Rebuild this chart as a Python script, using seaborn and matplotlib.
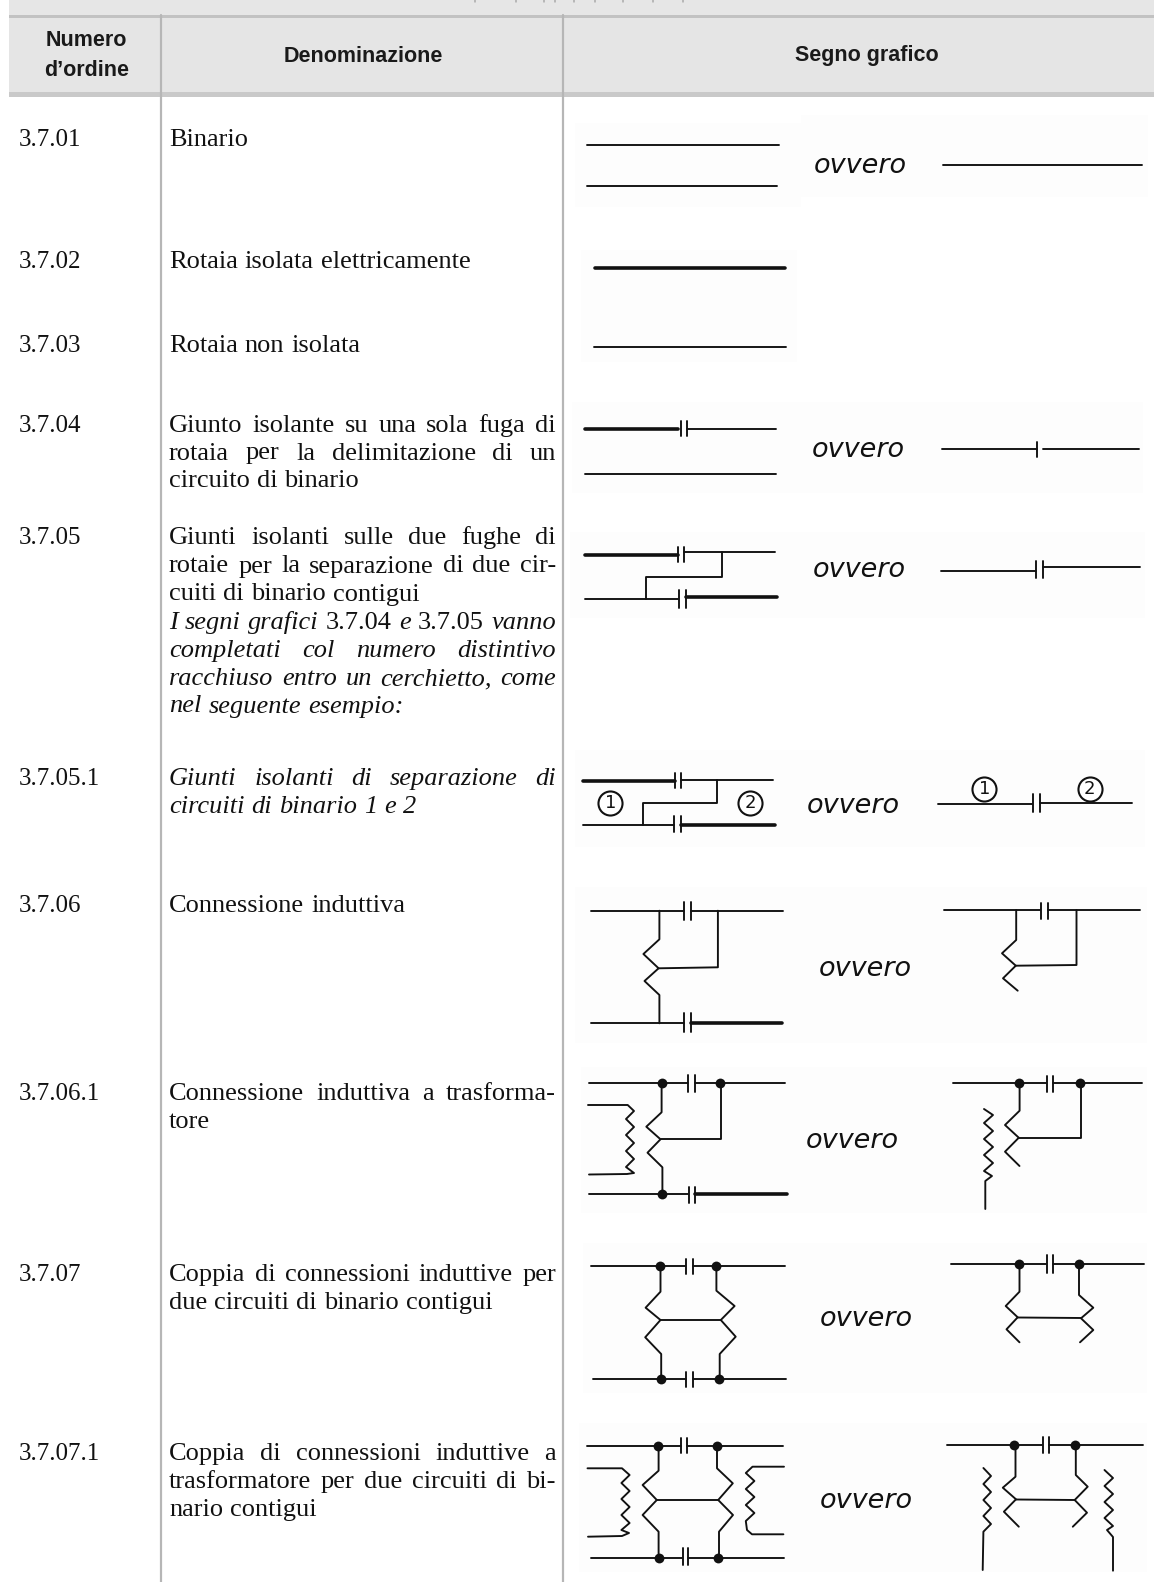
# -*- coding: utf-8 -*-
"""
Tabella segni grafici 3.7 (binari, giunti, connessioni induttive)
Assi in pixel dell'immagine, origine in alto a sinistra
"""
import pandas as pd
import seaborn as sns
import matplotlib
matplotlib.use("Agg")
import matplotlib.pyplot as plt
from matplotlib.patches import Rectangle

W, H = 1154, 1582

# intestazioni
HEADERS = [("Numero", 86.5, 45.5), ("d\u2019ordine", 86.5, 76.5),
           ("Denominazione", 363, 61.5), ("Segno grafico", 867, 61.5)]

# numeri d'ordine e relativa linea di base
NUMBERS = [("3.7.01", 146), ("3.7.02", 268), ("3.7.03", 352), ("3.7.04", 432),
           ("3.7.05", 544), ("3.7.05.1", 785), ("3.7.06", 912), ("3.7.06.1", 1100),
           ("3.7.07", 1281), ("3.7.07.1", 1460)]

# denominazioni: testo, linea di base, giustificato; * = parola in corsivo
NAMES = [
    ("Binario", 146, False),
    ("Rotaia isolata elettricamente", 268, False),
    ("Rotaia non isolata", 352, False),
    ("Giunto isolante su una sola fuga di", 432, True),
    ("rotaia per la delimitazione di un", 459.5, True),
    ("circuito di binario", 487, False),
    ("Giunti isolanti sulle due fughe di", 544, True),
    ("rotaie per la separazione di due cir-", 572.5, True),
    ("cuiti di binario contigui", 600.5, False),
    ("*I *segni *grafici 3.7.04 *e 3.7.05 *vanno", 629, True),
    ("*completati *col *numero *distintivo", 657, True),
    ("*racchiuso *entro *un *cerchietto, *come", 685, True),
    ("*nel *seguente *esempio:", 712.5, False),
    ("*Giunti *isolanti *di *separazione *di", 785, True),
    ("*circuiti *di *binario *1 *e *2", 813, False),
    ("Connessione induttiva", 912, False),
    ("Connessione induttiva a trasforma-", 1100, True),
    ("tore", 1128, False),
    ("Coppia di connessioni induttive per", 1281, True),
    ("due circuiti di binario contigui", 1309, False),
    ("Coppia di connessioni induttive a", 1460, True),
    ("trasformatore per due circuiti di bi-", 1488, True),
    ("nario contigui", 1516, False),
]

# scritte "ovvero" (centro x, linea di base)
OVVERO = [(860.5, 172.7), (858.6, 457.3), (859.8, 576.7), (853.8, 812.7), (865, 976),
          (852.3, 1147.7), (866.8, 1326), (866.8, 1508.3)]

# tratti spessi (rotaia isolata)
THICK = [
    [(595, 268), (785, 268)],
    [(585, 429), (678, 429)],
    [(585, 555), (678, 555)],
    [(685.5, 596.7), (777.4, 596.7)],
    [(583, 781), (675, 781)],
    [(680.6, 824.7), (774.8, 824.7)],
    [(691, 1023.3), (781.5, 1023.3)],
    [(695, 1194.3), (786.8, 1194.3)],
]

# rotaie normali
RAIL = [
    [(587, 145), (778.6, 145)], [(587, 186), (777, 186)], [(943, 165), (1141.7, 165)],
    [(593.5, 347), (786.4, 347)],
    [(687, 429), (775.6, 429)], [(585, 473.7), (776, 473.7)],
    [(941.7, 449.3), (1036.7, 449.3)], [(1043, 449.3), (1138.7, 449.3)],
    [(684, 552.3), (774.8, 552.3)], [(585, 599.3), (678, 599.3)],
    [(940.6, 570.7), (1035.6, 570.7)], [(1043, 567.3), (1139.8, 567.3)],
    [(681, 779.7), (773, 779.7)], [(583, 824.7), (674.3, 824.7)],
    [(937.6, 804), (1031.8, 804)], [(1040, 803), (1132.4, 803)],
    [(590.5, 910.7), (683.6, 910.7)], [(691, 910.7), (783.4, 910.7)],
    [(591, 1023.3), (683.6, 1023.3)],
    [(943.6, 910), (1040, 910)], [(1047.5, 910), (1139.8, 910)],
    [(588.6, 1082.7), (688.4, 1082.7)], [(694.8, 1082.7), (785.3, 1082.7)],
    [(588.6, 1194.3), (688.4, 1194.3)],
    [(952.5, 1083.3), (1046, 1083.3)], [(1053.4, 1083.3), (1141.7, 1083.3)],
    [(590.5, 1266), (684.7, 1266)], [(692.9, 1266), (785.3, 1266)],
    [(593, 1379.3), (685.5, 1379.3)], [(692.9, 1379.3), (786, 1379.3)],
    [(950.6, 1264), (1046, 1264)], [(1053, 1264), (1143.5, 1264)],
    [(586.8, 1445.7), (681, 1445.7)], [(687.3, 1445.7), (783, 1445.7)],
    [(590.5, 1558.3), (681.7, 1558.3)], [(688.4, 1558.3), (784, 1558.3)],
    [(947.3, 1445.3), (1042.3, 1445.3)], [(1049.3, 1445.3), (1142.8, 1445.3)],
]

# giunti isolanti: x, y inizio, y fine
PLATES = [
    (680.6, 420.7, 435.7), (687.3, 420.7, 435.7), (1036.7, 442, 457),
    (678, 546.7, 561.7), (684.3, 546.7, 561.7), (678.8, 590, 607.7), (685.5, 590, 607.7),
    (1036.3, 561, 577.7), (1043, 561, 577.7),
    (675.4, 772.7, 788.3), (681, 772.7, 788.3), (674.3, 815.7, 832.3), (680.6, 815.7, 832.3),
    (1033, 794.3, 811.7), (1040, 794.3, 811.7),
    (684.3, 902.3, 920), (691, 902.3, 920), (684.3, 1013.3, 1032.3), (691, 1013.3, 1032.3),
    (1041, 902.7, 919), (1047.5, 902.7, 919),
    (688.4, 1075, 1091.7), (694.8, 1075, 1091.7), (689, 1186.7, 1203.3), (694.8, 1186.7, 1203.3),
    (1046.7, 1075.7, 1091.7), (1053.4, 1075.7, 1091.7),
    (686.2, 1259, 1274), (692.9, 1259, 1274), (686.2, 1371.7, 1386.7), (692.9, 1371.7, 1386.7),
    (1046.7, 1255, 1272.7), (1053, 1255, 1272.7),
    (681, 1438.3, 1452.7), (687.3, 1438.3, 1452.7), (682.5, 1548, 1565), (688.4, 1548, 1565),
    (1043, 1436.7, 1453.3), (1049.3, 1436.7, 1453.3),
]

# collegamenti, connessioni a zig-zag e secondari dei trasformatori
WIRES = [
    # 3.7.05 e 3.7.05.1
    [(721.6, 552.3), (721.6, 576.7), (646.3, 576.7), (646.3, 599.3)],
    [(717.1, 779.7), (717.1, 803.3), (643.4, 803.3), (643.4, 824.7)],
    # 3.7.06
    [(659.4, 910.7), (659.4, 939.3), (643.4, 954), (658.6, 968.3), (644.5, 981),
     (659.4, 995), (659.4, 1023.3)],
    [(658.6, 968.3), (717.9, 967.3), (717.9, 910.7)],
    [(1016.2, 910), (1016.2, 940), (1002, 953.3), (1015.8, 965.7), (1003, 978.3), (1017.7, 990.7)],
    [(1015.8, 965.7), (1076.5, 965), (1076.5, 910)],
    # 3.7.06.1
    [(661.6, 1082.7), (661.6, 1112.3), (646.3, 1126.7), (660.5, 1139.3), (647.5, 1152.7),
     (662.4, 1167.3), (662.4, 1194)],
    [(660.5, 1139.3), (720.8, 1139.3), (720.8, 1082.7)],
    [(588, 1105), (627.7, 1105), (634, 1111), (626, 1119), (634, 1127), (626, 1135), (634, 1143),
     (626, 1151), (634, 1159), (626, 1167), (634, 1173), (627, 1174), (589, 1174.5)],
    [(1019.6, 1083.3), (1019.6, 1110.7), (1005, 1125), (1018.8, 1137.7), (1005, 1151.7), (1019.5, 1166)],
    [(1018.8, 1137.7), (1081, 1137.7), (1081, 1083.3)],
    [(984, 1109), (993, 1115), (984, 1123), (993, 1131), (984, 1139), (993, 1147), (984, 1155),
     (993, 1163), (984, 1171), (992, 1176), (985.3, 1181), (985.3, 1209)],
    # 3.7.07
    [(660.5, 1266), (660.5, 1291.7), (645.6, 1307.7), (660.5, 1320), (645.2, 1337.3),
     (661.2, 1354), (661.2, 1379.3)],
    [(716.4, 1266), (716.4, 1290.7), (734.6, 1306), (720.8, 1320), (735.7, 1336.7),
     (719.7, 1354), (719.7, 1379.3)],
    [(660.5, 1320), (720.8, 1320)],
    [(1019.5, 1264), (1019.5, 1291.7), (1005.7, 1306), (1017.7, 1317.3), (1006.5, 1329.3), (1019.5, 1342.3)],
    [(1079, 1264), (1079, 1295), (1093.3, 1307.7), (1081, 1318.3), (1093.3, 1330), (1080, 1342.3)],
    [(1017.7, 1317.5), (1081, 1318)],
    # 3.7.07.1
    [(658.6, 1445.7), (658.6, 1470.7), (642.6, 1485), (656.8, 1500), (642.6, 1515),
     (658.6, 1531.7), (658.6, 1558.3)],
    [(717, 1445.7), (717, 1468.3), (732.8, 1483.3), (718.2, 1500), (733, 1515),
     (719, 1531.7), (719, 1558.3)],
    [(656.8, 1500), (718.2, 1500)],
    [(587.5, 1468.3), (622, 1468.3), (629.6, 1475), (621.4, 1483), (629.6, 1491), (621.4, 1499),
     (629.6, 1507), (621.4, 1515), (629.6, 1523), (621.4, 1530), (629, 1533), (622, 1536), (588, 1536.7)],
    [(784, 1466.7), (752.5, 1466.7), (745.8, 1473), (754.4, 1481), (745.8, 1489), (754.4, 1497),
     (745.8, 1505), (754.4, 1513), (745.8, 1521), (747, 1530), (752, 1534.3), (783.4, 1534.3)],
    [(1015.5, 1445.3), (1015.5, 1476.7), (1002.8, 1487.7), (1016, 1499.3), (1003.9, 1511.7), (1018.8, 1526.7)],
    [(1075.8, 1445.3), (1075.8, 1475), (1087.7, 1486.7), (1074.7, 1500), (1087, 1512.7), (1072.8, 1526.7)],
    [(1016, 1499.5), (1074.7, 1500)],
    [(983.4, 1468), (991, 1476), (983.4, 1484), (991, 1492), (983.4, 1500), (991, 1508), (983.4, 1516),
     (991, 1524), (983.4, 1531.7), (982.7, 1570)],
    [(1104.5, 1470), (1113, 1478), (1104.5, 1486), (1113, 1494), (1104.5, 1502), (1113, 1510),
     (1104.5, 1518), (1113, 1526), (1107, 1530), (1113, 1537), (1113, 1570.7)],
]

# pallini di connessione
DOTS_X = [661.6, 720, 661.6, 1019.2, 1079.5, 660, 716.4, 660.5, 719, 1018.8, 1079,
          657.5, 716.7, 658.6, 717.9, 1014, 1075.4]
DOTS_Y = [1082.7, 1082.7, 1194.3, 1083.3, 1083.3, 1266, 1266, 1379.3, 1379.3, 1264, 1264,
          1445.7, 1445.7, 1558.3, 1558.3, 1445.3, 1445.3]

# cerchietti con numero distintivo
CIRCLES = [("1", 610.2, 803.3), ("2", 750.3, 803.3), ("1", 984.2, 789), ("2", 1089.6, 789)]

# residui del titolo tagliato in alto
TOP_MARKS_X = [475, 516, 544, 555, 574, 595, 623, 653, 683]

# fondini delle scansioni
SCAN_BOXES = [(575, 123, 226, 84), (801, 115, 347, 82), (581, 250, 216, 112), (572, 402, 571, 91),
              (570, 532, 575, 86), (575, 750, 570, 97), (575, 887, 572, 156), (581, 1067, 566, 146),
              (583, 1243, 564, 150), (579, 1423, 568, 149)]


def strokes_df(strokes):
    rows = []
    for i, st in enumerate(strokes):
        for x, y in st:
            rows.append({"stroke": i, "x": x, "y": y})
    return pd.DataFrame(rows)


def draw_strokes(ax, strokes, px, color="#111111"):
    sns.lineplot(data=strokes_df(strokes), x="x", y="y", units="stroke", estimator=None,
                 sort=False, color=color, linewidth=px * 0.72, legend=False, ax=ax,
                 solid_capstyle="round", solid_joinstyle="round")


sns.set_theme(style="white")
plt.rcParams["font.family"] = ["Liberation Serif", "DejaVu Serif"]

fig = plt.figure(figsize=(W / 100, H / 100), dpi=100)
ax = fig.add_axes([0, 0, 1, 1])

# fasce dell'intestazione
ax.add_patch(Rectangle((9, 0), W - 9, 15, color="#e6e6e6", lw=0, zorder=0))
ax.add_patch(Rectangle((9, 15), W - 9, 2.5, color="#c2c2c2", lw=0, zorder=0))
ax.add_patch(Rectangle((9, 17.5), W - 9, 74.5, color="#e5e5e5", lw=0, zorder=0))
ax.add_patch(Rectangle((9, 92), W - 9, 4.5, color="#c9c9c9", lw=0, zorder=0))
for box in SCAN_BOXES:
    ax.add_patch(Rectangle(box[:2], box[2], box[3], color="#fdfdfd", lw=0, zorder=0))

# righe verticali della tabella
draw_strokes(ax, [[(160.7, 15), (160.7, H)], [(563, 15), (563, H)]], 2.2, color="#b6b6b6")
draw_strokes(ax, [[(x, 0), (x, 2)] for x in TOP_MARKS_X], 1.5, color="#a8a8a8")

# segni grafici
draw_strokes(ax, THICK, 3.6)
draw_strokes(ax, RAIL, 1.9)
draw_strokes(ax, [[(x, y0), (x, y1)] for x, y0, y1 in PLATES], 1.9)
draw_strokes(ax, WIRES, 1.9)
sns.scatterplot(x=DOTS_X, y=DOTS_Y, s=50, color="#111111", linewidth=0, legend=False, ax=ax, zorder=4)

# cerchietti
sns.scatterplot(x=[c[1] for c in CIRCLES], y=[c[2] for c in CIRCLES], s=300, facecolor="white",
                edgecolor="#111111", linewidth=1.5, legend=False, ax=ax, zorder=4)
for label, x, y in CIRCLES:
    ax.text(x, y, label, ha="center", va="center", fontsize=13, family="DejaVu Sans",
            color="#111111", zorder=5)

ax.set_xlim(0, W)
ax.set_ylim(H, 0)
ax.axis("off")

# testi
for label, x, y in HEADERS:
    ax.text(x, y, label, ha="center", va="baseline", fontsize=15.5, fontweight="bold",
            family="Liberation Sans", color="#1a1a1a")
for label, y in NUMBERS:
    ax.text(19, y, label, ha="left", va="baseline", fontsize=18, color="#111111")
for x, y in OVVERO:
    ax.text(x, y, "ovvero", ha="center", va="baseline", fontsize=19.5, style="oblique",
            family="DejaVu Sans", color="#111111")

# colonna denominazione, giustificata parola per parola
LEFT, RIGHT = 169, 556
fig.canvas.draw()
renderer = fig.canvas.get_renderer()
for line, y, justified in NAMES:
    artists = []
    for word in line.split(" "):
        italic = word.startswith("*")
        artists.append(ax.text(LEFT, y, word.lstrip("*"), ha="left", va="baseline", fontsize=19,
                               style="italic" if italic else "normal", color="#111111"))
    widths = [t.get_window_extent(renderer).width for t in artists]
    gap = 7
    if justified and len(artists) > 1:
        gap = (RIGHT - LEFT - sum(widths)) / (len(artists) - 1)
    x = LEFT
    for t, w in zip(artists, widths):
        t.set_x(x)
        x += w + gap

fig.savefig("out.png", dpi=100)
plt.close(fig)
